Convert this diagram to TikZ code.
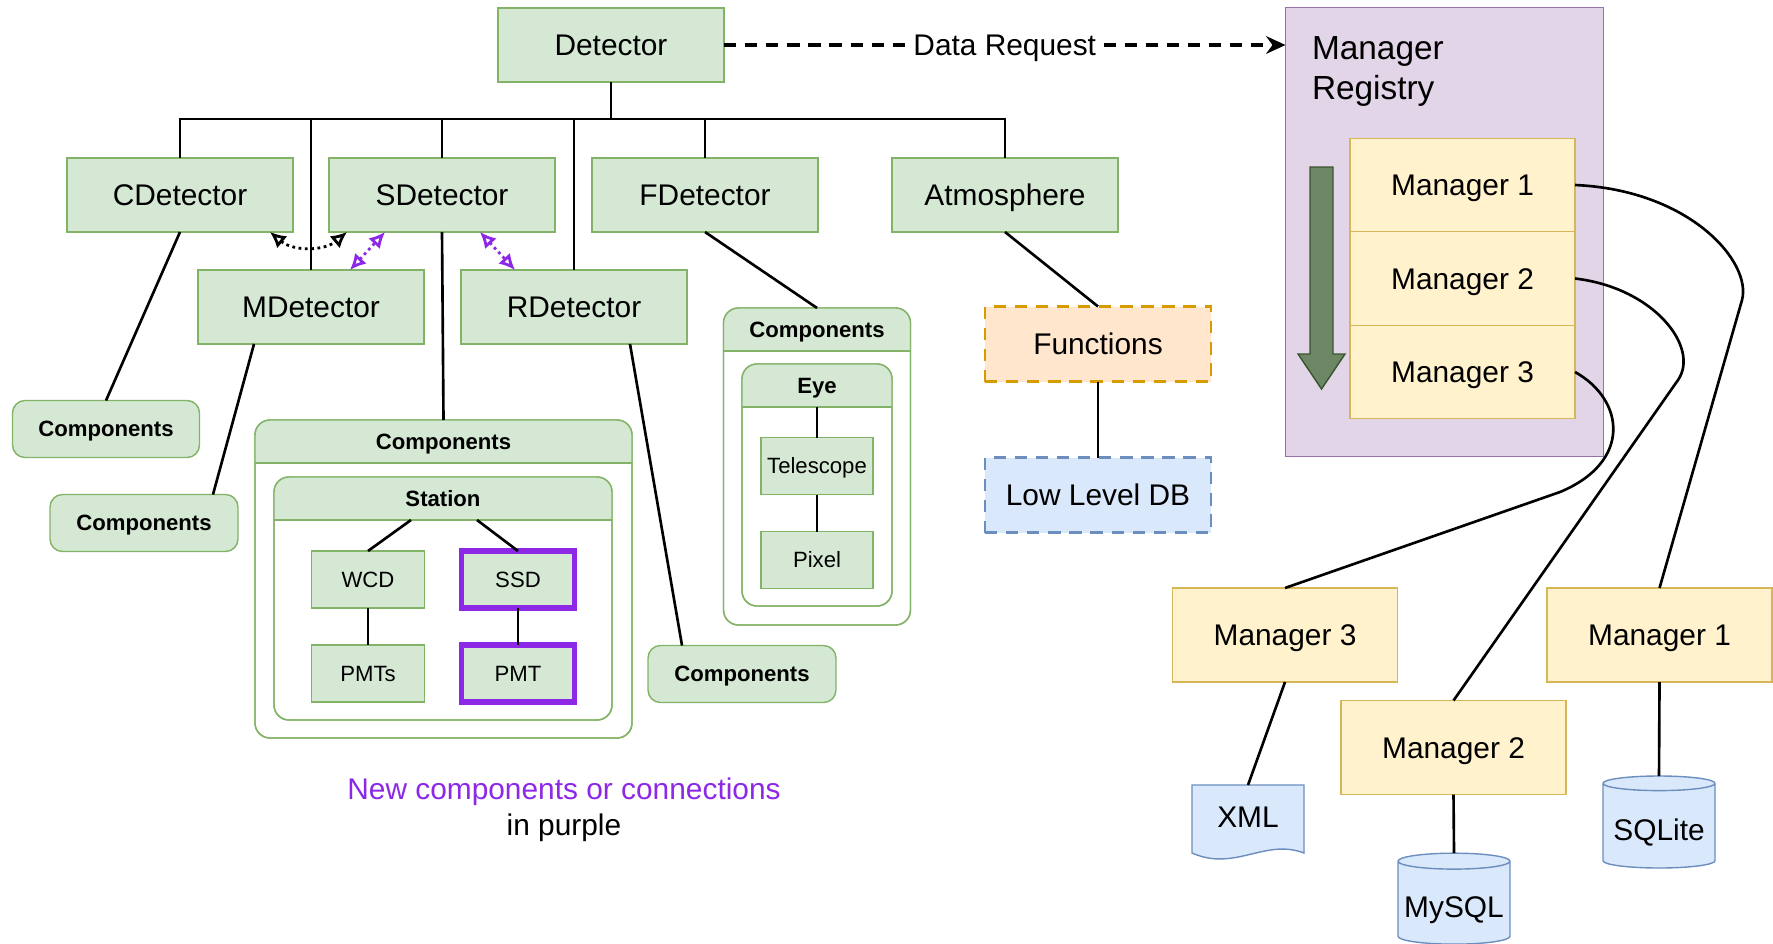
\documentclass[tikz,border=0pt]{standalone}
\usepackage{fontspec}
\setmainfont{Liberation Sans}
\usetikzlibrary{positioning,calc,arrows.meta,shapes.geometric}

\definecolor{gfill}{HTML}{D5E8D4}
\definecolor{gdraw}{HTML}{82B366}
\definecolor{yfill}{HTML}{FFF2CC}
\definecolor{ydraw}{HTML}{D6B656}
\definecolor{rfill}{HTML}{E1D5E7}
\definecolor{rdraw}{HTML}{9673A6}
\definecolor{ofill}{HTML}{FFE6CC}
\definecolor{odraw}{HTML}{D79B00}
\definecolor{bfill}{HTML}{DAE8FC}
\definecolor{bdraw}{HTML}{6C8EBF}
\definecolor{afill}{HTML}{6D8764}
\definecolor{adraw}{HTML}{3A5431}
\definecolor{newc}{HTML}{8C28E6}

% header band of a rounded container: #1 node, #2 band height
\newcommand{\lanehead}[2]{%
  \begin{scope}
    \clip (#1.north west) rectangle ($(#1.north east)+(0,#2)$);
    \fill[gfill, rounded corners=0.3cm] (#1.north west) rectangle (#1.south east);
  \end{scope}
  \draw[gdraw, line width=0.8pt] ($(#1.north west)+(0,#2)$) -- ($(#1.north east)+(0,#2)$);
  \draw[gdraw, line width=0.8pt, rounded corners=0.3cm] (#1.north west) rectangle (#1.south east);
}

\begin{document}
\begin{tikzpicture}[x=0.02cm, y=-0.02cm,
  every node/.style={inner sep=0pt, outer sep=0pt},
  wh/.style 2 args={minimum width=#1*0.02cm, minimum height=#2*0.02cm},
  big/.style={font=\fontsize{17}{20}\selectfont, text height=12.2pt, text depth=0pt},
  small/.style={font=\fontsize{12.6}{15}\selectfont, text height=9pt, text depth=0pt},
  smallb/.style={small, font=\fontsize{12.6}{15}\selectfont\bfseries},
  gbox/.style={draw=gdraw, fill=gfill, line width=0.8pt},
  cbox/.style={gbox, rounded corners=0.25cm, smallb},
  lane/.style={draw=gdraw, fill=white, line width=0.8pt, rounded corners=0.3cm},
  nbox/.style={gbox, draw=newc, line width=3pt},
  ybox/.style={draw=ydraw, fill=yfill, line width=0.8pt, big},
  dbox/.style={line width=1.6pt, dash pattern=on 7pt off 5pt, big},
  db/.style={draw=bdraw, fill=bfill, line width=0.8pt, big},
  cyl/.style={db, cylinder, shape border rotate=90, aspect=0.16, text height=16pt},
  link/.style={line width=1.5pt},
  twoway/.style={line width=1.6pt, dotted, {Latex[open,length=9pt,width=9pt]}-{Latex[open,length=9pt,width=9pt]}}
]
\useasboundingbox (0,0) rectangle (1773,943);

% detector tree
\node[gbox, big, wh={226}{74}] (det) at (611,45) {Detector};
\node[gbox, big, wh={226}{74}] (cdet) at (180,195) {CDetector};
\node[gbox, big, wh={226}{74}] (sdet) at (442,195) {SDetector};
\node[gbox, big, wh={226}{74}] (fdet) at (705,195) {FDetector};
\node[gbox, big, wh={226}{74}] (atm) at (1005,195) {Atmosphere};
\node[gbox, big, wh={226}{74}] (mdet) at (311,307) {MDetector};
\node[gbox, big, wh={226}{74}] (rdet) at (574,307) {RDetector};

\coordinate (bus) at (611,119);
\draw[link] (det.south) -- (bus);
\draw[link] (cdet.north) |- (bus) -| (atm.north);
\draw[link] (mdet.north) -- (mdet.north |- bus);
\draw[link] (sdet.north) -- (sdet.north |- bus);
\draw[link] (rdet.north) -- (rdet.north |- bus);
\draw[link] (fdet.north) -- (fdet.north |- bus);

\draw[twoway] ([xshift=-0.46cm]cdet.south east) to[bend right=40] ([xshift=0.36cm]sdet.south west);
\draw[twoway, newc] ([xshift=0.78cm]mdet.north) -- ([xshift=-1.14cm]sdet.south);
\draw[twoway, newc] ([xshift=0.76cm]sdet.south) -- ([xshift=-1.18cm]rdet.north);

% plain component boxes
\node[cbox, wh={187}{57}] (cmpC) at (106,429) {Components};
\node[cbox, wh={188}{57}] (cmpM) at (144,523) {Components};
\node[cbox, wh={188}{57}] (cmpR) at (742,674) {Components};
\draw[link] (cdet.south) -- (cmpC.north);
\draw[link] ([xshift=-1.14cm]mdet.south) -- ([xshift=1.38cm]cmpM.north);
\draw[link] ([xshift=1.12cm]rdet.south) -- ([xshift=-1.2cm]cmpR.north);

% surface detector components
\node[lane, wh={377}{318}] (cmpS) at (443.5,579) {};
\lanehead{cmpS}{43}
\node[smallb] (cmpSt) at ($(cmpS.north)+(0,22)$) {Components};
\node[lane, wh={338}{243}] (stn) at (443,598.5) {};
\lanehead{stn}{43}
\node[smallb] (stnt) at ($(stn.north)+(0,22)$) {Station};
\node[gbox, small, wh={113}{57}] (wcd) at (368,579.5) {WCD};
\node[nbox, small, wh={113}{57}] (ssd) at (518,579.5) {SSD};
\node[gbox, small, wh={113}{57}] (pmts) at (368,673.5) {PMTs};
\node[nbox, small, wh={113}{57}] (pmt) at (518,673.5) {PMT};
\draw[link] (sdet.south) -- (cmpS.north);
\draw[link] ($(stn.north)+(-32,43)$) -- (wcd.north);
\draw[link] ($(stn.north)+(34,43)$) -- (ssd.north);
\draw[link] (wcd.south) -- (pmts.north);
\draw[link] (ssd.south) -- (pmt.north);

% fluorescence detector components
\node[lane, wh={187}{317}] (cmpF) at (817,466.5) {};
\lanehead{cmpF}{43}
\node[smallb] (cmpFt) at ($(cmpF.north)+(0,22)$) {Components};
\node[lane, wh={150}{242}] (eye) at (817,485) {};
\lanehead{eye}{43}
\node[smallb] (eyet) at ($(eye.north)+(0,22)$) {Eye};
\node[gbox, small, wh={112}{57}] (tel) at (817,466) {Telescope};
\node[gbox, small, wh={112}{57}] (pix) at (817,560) {Pixel};
\draw[link] (fdet.south) -- (cmpF.north);
\draw[link] ($(eye.north)+(0,43)$) -- (tel.north);
\draw[link] (tel.south) -- (pix.north);

% atmosphere
\node[dbox, draw=odraw, fill=ofill, wh={226}{75}] (fn) at (1098,344) {Functions};
\node[dbox, draw=bdraw, fill=bfill, wh={226}{75}] (ldb) at (1098,495) {Low Level DB};
\draw[link] (atm.south) -- (fn.north);
\draw[link] (fn.south) -- (ldb.north);

% manager registry
\node[draw=rdraw, fill=rfill, line width=0.8pt, wh={318}{449}] (reg) at (1444.5,232) {};
\node[anchor=north west, align=left, font=\fontsize{19}{22.5}\selectfont] (regt) at (1312,37) {Manager\\Registry};
\node[ybox, wh={225}{93.5}] (st1) at (1462.5,185) {Manager 1};
\node[ybox, wh={225}{93.5}] (st2) at (1462.5,278.5) {Manager 2};
\node[ybox, wh={225}{93.5}] (st3) at (1462.5,372) {Manager 3};
\filldraw[fill=afill, draw=adraw, line width=0.8pt] (1310,167) -- (1333,167) -- (1333,354)
  -- (1345,354) -- (1321.5,389) -- (1298,354) -- (1310,354) -- cycle;

\draw[line width=2pt, dash pattern=on 7pt off 5pt, -{Stealth[length=11pt,width=10pt]}] (det.east) -- (det.east -| reg.west)
  node[midway, fill=white, inner xsep=4pt, inner ysep=2pt, big] (req) {Data Request};

% managers and their back ends
\node[ybox, wh={225}{94}] (mb3) at (1285,635) {Manager 3};
\node[ybox, wh={225}{94}] (mb1) at (1659.5,635) {Manager 1};
\node[ybox, wh={225}{94}] (mb2) at (1453.5,747.5) {Manager 2};
\draw[link] (st1.east) .. controls (1690,190) and (1752,262) .. (1742,300) -- (mb1.north);
\draw[link] (st2.east) .. controls (1655,288) and (1700,348) .. (1678,380) -- (mb2.north);
\draw[link] (st3.east) .. controls (1625,400) and (1632,462) .. (1560,492) -- (mb3.north);

\coordinate (xmlc) at (1248,820);
\filldraw[draw=bdraw, fill=bfill, line width=0.8pt] ($(xmlc)+(-56,-35)$) -- ($(xmlc)+(56,-35)$) -- ($(xmlc)+(56,33)$)
  .. controls ($(xmlc)+(17,18)$) and ($(xmlc)+(-13,52)$) .. ($(xmlc)+(-56,33)$) -- cycle;
\node[big, wh={112}{64}] (xml) at ($(xmlc)+(0,-3)$) {XML};
\node[cyl, wh={112}{91}] (mysql) at (1454,903) {MySQL};
\node[cyl, wh={112}{92}] (sqlite) at (1659,826) {SQLite};
\draw[link] (mb3.south) -- (xml.north);
\draw[link] (mb2.south) -- (mysql.top);
\draw[link] (mb1.south) -- (sqlite.top);

\node[align=center, font=\fontsize{17}{20.5}\selectfont] (note) at (564,809.5) {\textcolor{newc}{New components or connections}\\in purple};
\end{tikzpicture}
\end{document}
